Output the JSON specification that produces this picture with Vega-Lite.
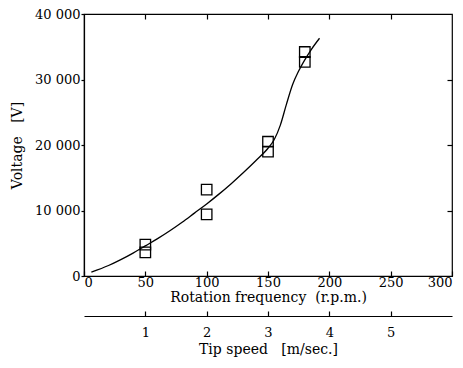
{
  "$schema": "https://vega.github.io/schema/vega-lite/v6.json",
  "width": 368,
  "height": 262,
  "padding": {"left": 84, "top": 14, "right": 11, "bottom": 92},
  "autosize": {"type": "none"},
  "background": "white",
  "config": {
    "font": "DejaVu Serif",
    "view": {"stroke": "black", "strokeWidth": 1.2},
    "axis": {
      "grid": false,
      "domainColor": "black",
      "tickColor": "black",
      "labelColor": "black",
      "titleColor": "black",
      "labelFont": "DejaVu Serif",
      "titleFont": "DejaVu Serif",
      "labelFontSize": 13,
      "titleFontSize": 14,
      "titleFontWeight": "normal",
      "domainWidth": 1.2,
      "tickWidth": 1.2
    }
  },
  "datasets": {
    "curve": [
      {"rpm": 6, "volt": 600},
      {"rpm": 20, "volt": 1600},
      {"rpm": 30, "volt": 2500},
      {"rpm": 40, "volt": 3500},
      {"rpm": 50, "volt": 4600},
      {"rpm": 60, "volt": 5700},
      {"rpm": 70, "volt": 6900},
      {"rpm": 80, "volt": 8200},
      {"rpm": 90, "volt": 9600},
      {"rpm": 100, "volt": 11000},
      {"rpm": 110, "volt": 12500},
      {"rpm": 120, "volt": 14100},
      {"rpm": 130, "volt": 15800},
      {"rpm": 140, "volt": 17600},
      {"rpm": 150, "volt": 19500},
      {"rpm": 155, "volt": 20800},
      {"rpm": 160, "volt": 23000},
      {"rpm": 165, "volt": 26200},
      {"rpm": 170, "volt": 29200},
      {"rpm": 175, "volt": 31300},
      {"rpm": 180, "volt": 33000},
      {"rpm": 185, "volt": 34500},
      {"rpm": 192, "volt": 36300}
    ],
    "points": [
      {"rpm": 50, "volt": 4800},
      {"rpm": 50, "volt": 3600},
      {"rpm": 100, "volt": 13200},
      {"rpm": 100, "volt": 9400},
      {"rpm": 150, "volt": 20500},
      {"rpm": 150, "volt": 19000},
      {"rpm": 180, "volt": 34200},
      {"rpm": 180, "volt": 32700}
    ]
  },
  "resolve": {"axis": {"x": "independent", "y": "independent"}},
  "layer": [
    {
      "data": {"name": "curve"},
      "mark": {"type": "line", "interpolate": "monotone", "color": "black", "strokeWidth": 1.3},
      "encoding": {
        "x": {
          "field": "rpm", "type": "quantitative",
          "scale": {"domain": [0, 300], "nice": false, "zero": false},
          "axis": {
            "orient": "bottom",
            "values": [0, 50, 100, 150, 200, 250, 300],
            "tickSize": -5,
            "labelPadding": 5,
            "title": "Rotation frequency\u00a0\u00a0(r.p.m.)",
            "titlePadding": 1
          }
        },
        "y": {
          "field": "volt", "type": "quantitative",
          "scale": {"domain": [0, 40000], "nice": false},
          "axis": {
            "orient": "left",
            "values": [0, 10000, 20000, 30000, 40000],
            "labelExpr": "datum.value == 0 ? '0' : (datum.value / 1000) + ' 000'",
            "tickSize": 3,
            "labelPadding": 1,
            "title": "Voltage\u00a0\u00a0\u00a0[V]",
            "titlePadding": 10
          }
        }
      }
    },
    {
      "data": {"name": "points"},
      "mark": {"type": "point", "shape": "square", "filled": false, "color": "black", "size": 110, "strokeWidth": 1.3, "opacity": 1},
      "encoding": {
        "x": {"field": "rpm", "type": "quantitative", "axis": null},
        "y": {"field": "volt", "type": "quantitative", "axis": null}
      }
    },
    {
      "data": {"name": "points"},
      "mark": {"type": "point", "opacity": 0},
      "encoding": {
        "x": {
          "field": "rpm", "type": "quantitative",
          "axis": {"orient": "top", "values": [50, 100, 150, 200, 250], "labels": false, "domain": false, "tickSize": -5, "title": null}
        },
        "y": {
          "field": "volt", "type": "quantitative",
          "axis": {"orient": "right", "values": [10000, 20000, 30000], "labels": false, "domain": false, "tickSize": -5, "title": null}
        }
      }
    },
    {
      "data": {"name": "points"},
      "mark": {"type": "point", "opacity": 0},
      "encoding": {
        "x": {
          "field": "rpm", "type": "quantitative",
          "axis": {
            "orient": "bottom",
            "offset": 40,
            "values": [50, 100, 150, 200, 250],
            "labelExpr": "format(datum.value / 50, 'd')",
            "tickSize": -5,
            "labelPadding": 15,
            "title": "Tip speed\u00a0\u00a0\u00a0[m/sec.]",
            "titlePadding": 3
          }
        },
        "y": {"field": "volt", "type": "quantitative", "axis": null}
      }
    }
  ]
}
